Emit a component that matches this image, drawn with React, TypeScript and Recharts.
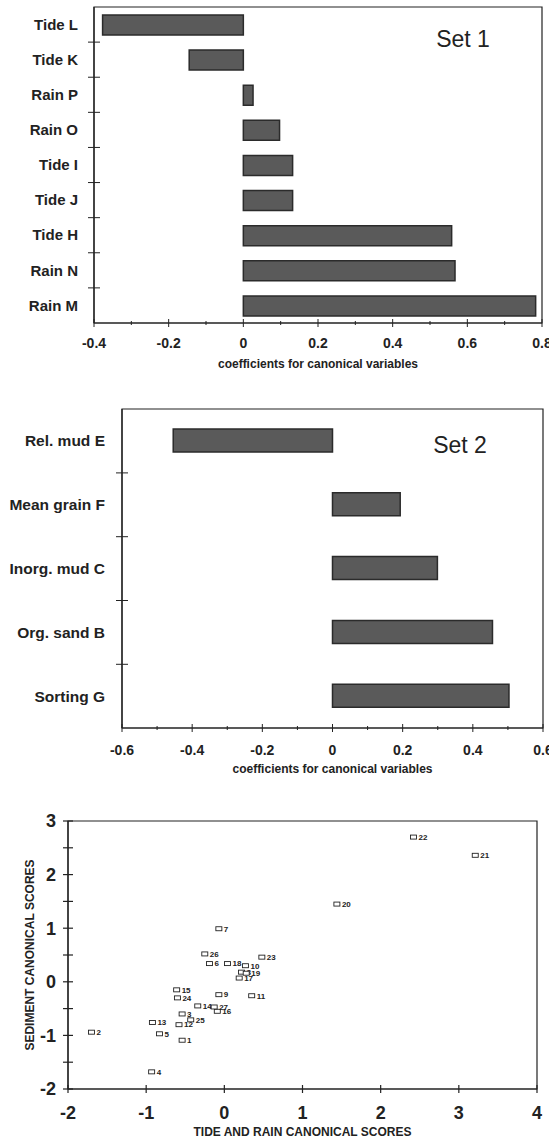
import { BarChart, Bar, ScatterChart, Scatter, XAxis, YAxis, ReferenceArea } from 'recharts'

const FONT = '"Liberation Sans", Arial, sans-serif'
const INK = '#222'

// Set 1: tide and rain variables
const set1Names = ['Tide L', 'Tide K', 'Rain P', 'Rain O', 'Tide I', 'Tide J', 'Tide H', 'Rain N', 'Rain M']
const set1Coefs = [-0.377, -0.145, 0.026, 0.097, 0.132, 0.132, 0.558, 0.567, 0.783]
const set1Ticks = [-0.4, -0.3, -0.2, -0.1, 0, 0.1, 0.2, 0.3, 0.4, 0.5, 0.6, 0.7, 0.8]

// Set 2: sediment variables
const set2Names = ['Rel. mud E', 'Mean grain F', 'Inorg. mud C', 'Org. sand B', 'Sorting G']
const set2Coefs = [-0.454, 0.193, 0.299, 0.456, 0.503]
const set2Ticks = [-0.6, -0.5, -0.4, -0.3, -0.2, -0.1, 0, 0.1, 0.2, 0.3, 0.4, 0.5, 0.6]

// canonical scores per site
const siteIds = [1, 2, 3, 4, 5, 6, 7, 8, 9, 10, 11, 12, 13, 14, 15, 16, 17, 18, 19, 20, 21, 22, 23, 24, 25, 26, 27]
const tideRainScores = [
    -0.54, -1.7, -0.54, -0.93, -0.83, -0.19, -0.07, 0.22, -0.07, 0.27, 0.35, -0.58, -0.92, -0.34, -0.61, -0.09, 0.19,
    0.04, 0.28, 1.44, 3.21, 2.42, 0.48, -0.6, -0.43, -0.25, -0.13,
]
const sedimentScores = [
    -1.09, -0.94, -0.6, -1.68, -0.97, 0.34, 0.99, 0.18, -0.24, 0.3, -0.26, -0.8, -0.76, -0.45, -0.15, -0.55, 0.07,
    0.34, 0.16, 1.45, 2.36, 2.7, 0.46, -0.3, -0.71, 0.52, -0.47,
]
const scoreXTicks = [-2, -1, 0, 1, 2, 3, 4]
const scoreYTicks = [-2, -1.5, -1, -0.5, 0, 0.5, 1, 1.5, 2, 2.5, 3]

const set1Data = set1Names.map((name, i) => ({ name, coef: set1Coefs[i] }))
const set2Data = set2Names.map((name, i) => ({ name, coef: set2Coefs[i] }))
const scoreData = siteIds.map((id, i) => ({ id, x: tideRainScores[i], y: sedimentScores[i] }))

const isMajorCoef = (v: number) => Math.round(v * 10) % 2 === 0
const fmt = (v: number) => (Math.abs(v) < 1e-9 ? '0' : String(Math.round(v * 10) / 10))

function CoefTick(props: any) {
    const { x, y, payload } = props
    const major = isMajorCoef(payload.value)
    return (
        <g>
            <line x1={x} x2={x} y1={y - (major ? 4 : 2)} y2={y + (major ? 4 : 2)} stroke={INK} strokeWidth={1} />
            {major && (
                <text x={x} y={y + props.gap} dy="0.35em" textAnchor="middle" fontSize={14} fontWeight="bold" fill={INK} fontFamily={FONT}>
                    {fmt(payload.value)}
                </text>
            )}
        </g>
    )
}

function NameTick(props: any) {
    const { x, y, payload, index, band, gap, fontSize } = props
    return (
        <g>
            {index > 0 && <line x1={x - 6} x2={x + 6} y1={y - band / 2} y2={y - band / 2} stroke={INK} strokeWidth={1} />}
            <text x={x - gap} y={y} dy="0.35em" textAnchor="end" fontSize={fontSize} fontWeight="bold" fill={INK} fontFamily={FONT}>
                {payload.value}
            </text>
        </g>
    )
}

function ScoreXTick(props: any) {
    const { x, y, payload } = props
    return (
        <g>
            <line x1={x} x2={x} y1={y - 4} y2={y + 4} stroke={INK} strokeWidth={1.2} />
            <text x={x} y={y + 24} dy="0.35em" textAnchor="middle" fontSize={18} fontWeight="bold" fill={INK} fontFamily={FONT}>
                {payload.value}
            </text>
        </g>
    )
}

function ScoreYTick(props: any) {
    const { x, y, payload } = props
    const whole = Number.isInteger(payload.value)
    return (
        <g>
            <line x1={x - 5} x2={x + 5} y1={y} y2={y} stroke={INK} strokeWidth={1.2} />
            {whole && (
                <text x={x - 12} y={y} dy="0.35em" textAnchor="end" fontSize={18} fontWeight="bold" fill={INK} fontFamily={FONT}>
                    {payload.value}
                </text>
            )}
        </g>
    )
}

function SiteMarker(props: any) {
    const { cx, cy, payload } = props
    return (
        <g>
            <rect x={cx - 3} y={cy - 2} width={6} height={4} fill="#fff" stroke={INK} strokeWidth={0.9} />
            <text x={cx + 5} y={cy} dy="0.35em" fontSize={8} fontWeight="bold" fill={INK} fontFamily={FONT}>
                {payload.id}
            </text>
        </g>
    )
}

const axisLine = { stroke: INK, strokeWidth: 1.2 }
const axisTitle = { fontSize: 12, fontWeight: 'bold', fill: INK, fontFamily: FONT }

export default function App() {
    return (
        <div style={{ position: 'absolute', left: 0, top: 0, width: 549, height: 1139, background: '#fff', fontFamily: FONT }}>
            <div style={{ position: 'absolute', left: 0, top: 0 }}>
                <BarChart width={549} height={380} data={set1Data} layout="vertical" margin={{ top: 7, right: 7, bottom: 0, left: 0 }}>
                    <XAxis
                        type="number"
                        domain={[-0.4, 0.8]}
                        ticks={set1Ticks}
                        interval={0}
                        height={57}
                        tickSize={0}
                        tickMargin={0}
                        tickLine={false}
                        axisLine={axisLine}
                        tick={(p: any) => <CoefTick {...p} gap={20} />}
                        label={{ value: 'coefficients for canonical variables', position: 'insideBottom', offset: 12, style: axisTitle }}
                    />
                    <YAxis
                        type="category"
                        dataKey="name"
                        width={94}
                        interval={0}
                        tickSize={0}
                        tickMargin={0}
                        tickLine={false}
                        axisLine={axisLine}
                        tick={(p: any) => <NameTick {...p} band={316 / 9} gap={16} fontSize={15} />}
                    />
                    <ReferenceArea x1={-0.4} x2={0.8} fill="none" stroke={INK} strokeWidth={1.2} />
                    <Bar dataKey="coef" barSize={20} fill="#5a5a5a" stroke="#2b2b2b" strokeWidth={1.5} isAnimationActive={false} />
                </BarChart>
            </div>
            <div style={{ position: 'absolute', left: 463, top: 39, transform: 'translate(-50%, -50%)', fontSize: 23, lineHeight: 1, color: INK }}>
                Set 1
            </div>

            <div style={{ position: 'absolute', left: 0, top: 380 }}>
                <BarChart width={549} height={400} data={set2Data} layout="vertical" margin={{ top: 29, right: 6, bottom: 0, left: 0 }}>
                    <XAxis
                        type="number"
                        domain={[-0.6, 0.6]}
                        ticks={set2Ticks}
                        interval={0}
                        height={52}
                        tickSize={0}
                        tickMargin={0}
                        tickLine={false}
                        axisLine={axisLine}
                        tick={(p: any) => <CoefTick {...p} gap={22} />}
                        label={{ value: 'coefficients for canonical variables', position: 'insideBottom', offset: 7, style: axisTitle }}
                    />
                    <YAxis
                        type="category"
                        dataKey="name"
                        width={122}
                        interval={0}
                        tickSize={0}
                        tickMargin={0}
                        tickLine={false}
                        axisLine={axisLine}
                        tick={(p: any) => <NameTick {...p} band={318 / 5} gap={17} fontSize={15.5} />}
                    />
                    <ReferenceArea x1={-0.6} x2={0.6} fill="none" stroke={INK} strokeWidth={1.2} />
                    <Bar dataKey="coef" barSize={23} fill="#5a5a5a" stroke="#2b2b2b" strokeWidth={1.5} isAnimationActive={false} />
                </BarChart>
            </div>
            <div style={{ position: 'absolute', left: 460, top: 445, transform: 'translate(-50%, -50%)', fontSize: 23, lineHeight: 1, color: INK }}>
                Set 2
            </div>

            <div style={{ position: 'absolute', left: 0, top: 800 }}>
                <ScatterChart width={549} height={339} margin={{ top: 21, right: 12, bottom: 0, left: 0 }}>
                    <XAxis
                        type="number"
                        dataKey="x"
                        domain={[-2, 4]}
                        ticks={scoreXTicks}
                        interval={0}
                        height={50}
                        tickSize={0}
                        tickMargin={0}
                        tickLine={false}
                        axisLine={axisLine}
                        tick={(p: any) => <ScoreXTick {...p} />}
                        label={{ value: 'TIDE AND RAIN CANONICAL SCORES', position: 'insideBottom', offset: 3, style: axisTitle }}
                    />
                    <YAxis
                        type="number"
                        dataKey="y"
                        domain={[-2, 3]}
                        ticks={scoreYTicks}
                        interval={0}
                        width={68}
                        tickSize={0}
                        tickMargin={0}
                        tickLine={false}
                        axisLine={axisLine}
                        tick={(p: any) => <ScoreYTick {...p} />}
                        label={{ value: 'SEDIMENT CANONICAL SCORES', angle: -90, position: 'center', dx: -4, style: axisTitle }}
                    />
                    <ReferenceArea x1={-2} x2={4} y1={-2} y2={3} fill="none" stroke={INK} strokeWidth={1.2} />
                    <Scatter data={scoreData} shape={(p: any) => <SiteMarker {...p} />} isAnimationActive={false} />
                </ScatterChart>
            </div>
        </div>
    )
}
